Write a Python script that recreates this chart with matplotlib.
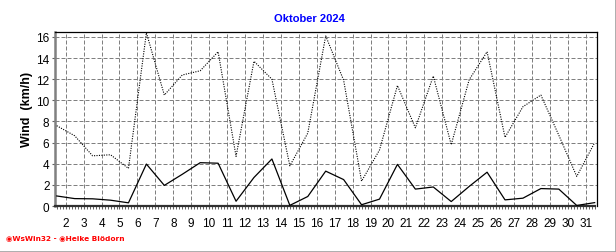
import numpy as np
import matplotlib
matplotlib.use('Agg')
import matplotlib.pyplot as plt
from matplotlib.ticker import MultipleLocator
from matplotlib.lines import Line2D

# Daily values, October 2024
days = list(range(1, 32))
wind = [0.95, 0.70, 0.68, 0.55, 0.30, 3.97, 1.95, 3.00, 4.10, 4.05,
        0.45, 2.70, 4.45, 0.06, 0.90, 3.30, 2.50, 0.12, 0.65, 3.94,
        1.60, 1.80, 0.42, 1.85, 3.20, 0.58, 0.74, 1.65, 1.60, 0.05, 0.32]
gust = [7.60, 6.65, 4.75, 4.85, 3.56, 16.40, 10.50, 12.40, 12.80, 14.60,
        4.70, 13.70, 12.00, 3.80, 6.90, 16.10, 11.90, 2.35, 5.30, 11.40,
        7.40, 12.30, 5.80, 11.95, 14.60, 6.50, 9.40, 10.50, 6.70, 2.80, 6.00]
xticks = list(range(2, 32))
yticks = list(range(0, 17, 2))

plt.rcParams['font.family'] = ['Liberation Sans', 'DejaVu Sans']

W, H = 616, 253
fig = plt.figure(figsize=(W / 100, H / 100), dpi=100)
fig.patch.set_facecolor('white')

# axes box in pixels: left 55, right 597, top 33, bottom 207
ax = fig.add_axes([55 / W, 1 - 207 / H, (597 - 55) / W, (207 - 33) / H])

x = np.array(days) + 0.5  # values sit in the middle of each day cell
ax.plot(x, gust, color='black', lw=0.8, linestyle=(0, (1, 1.2)), zorder=3)
ax.plot(x, wind, color='black', lw=0.9, zorder=3)

ax.set_xlim(1.403, 31.63)
ax.set_ylim(0, 16.47)
ax.set_xticks(xticks)
ax.set_yticks(yticks)
ax.xaxis.set_minor_locator(MultipleLocator(1 / 6))

ax.grid(True, which='major', color='#808080', lw=0.72, linestyle=(0, (4, 2)))
ax.set_axisbelow(True)

for s in ['top', 'right']:
    ax.spines[s].set_color('black')
    ax.spines[s].set_linewidth(0.9)
ax.spines['left'].set_color('#808080')
ax.spines['left'].set_linewidth(1.8)
ax.spines['bottom'].set_color('#303030')
ax.spines['bottom'].set_linewidth(1.6)
ax.spines['bottom'].set_linestyle((0, (1, 1)))

ax.tick_params(axis='x', which='major', length=2.5, width=0.8, color='#606060',
               pad=5.5, labelsize=8.5, labelcolor='black')
ax.tick_params(axis='x', which='minor', length=2, width=0.7, color='#606060')
ax.tick_params(axis='y', which='major', length=2.5, width=0.8, color='#606060',
               pad=1.5, labelsize=8.5, labelcolor='black')

fig.text(309.5 / W, 1 - 19 / H, 'Oktober 2024', color='#0000ff', fontsize=8,
         fontweight='bold', ha='center', va='center')
fig.text(27 / W, 1 - 109 / H, 'Wind  (km/h)', rotation=90, fontsize=9,
         fontweight='bold', ha='center', va='center')
fig.text(6 / W, 1 - 238 / H, '\u25c9WsWin32 - \u25c9Heike Blödorn', color='#ff0000',
         fontsize=5.3, fontweight='bold', ha='left', va='center',
         family=['DejaVu Sans'])

# grey panel edge at right and bottom
fig.add_artist(Line2D([0, 1], [0.5 / H, 0.5 / H], color='#a0a0a0', lw=1.2,
                      transform=fig.transFigure))
fig.add_artist(Line2D([1 - 0.5 / W, 1 - 0.5 / W], [0, 1], color='#a0a0a0', lw=1.2,
                      transform=fig.transFigure))

fig.savefig('out.png', dpi=100)
